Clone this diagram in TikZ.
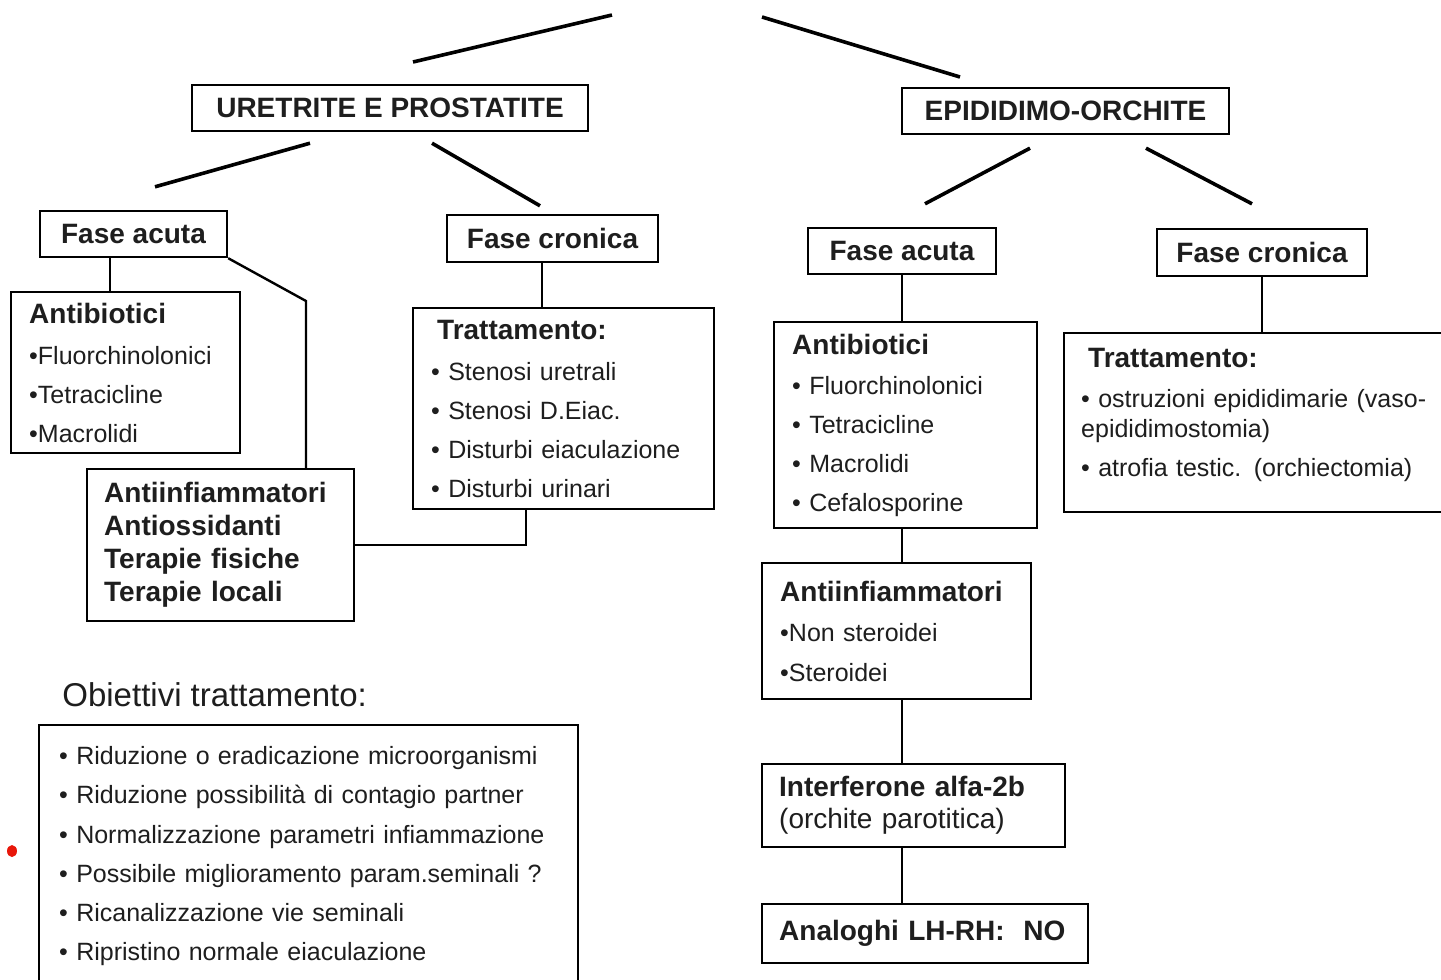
\documentclass[tikz,border=0pt]{standalone}
\usepackage{fontspec}
\setmainfont{Liberation Sans}
\usetikzlibrary{calc}
\definecolor{ink}{HTML}{1E1E1E}
\definecolor{reddot}{HTML}{E8170A}
\begin{document}
\begin{tikzpicture}[x=0.5pt,y=-0.5pt,
  box/.style={draw=black, line width=1.2pt, fill=white, rectangle, inner ysep=0pt, text=ink},
  hdr/.style={box, font=\fontsize{14}{16}\selectfont\bfseries, align=center},
  lst/.style={box, align=left, anchor=north west, font=\fontsize{12.5}{19.5}\selectfont},
  conn/.style={line width=1.2pt},
  topline/.style={line width=1.8pt}
]
\useasboundingbox[fill=white] (0,0) rectangle (1441,980);

% ---------- header boxes ----------
\node[hdr, minimum width=198pt, minimum height=23pt] (UP) at (390,108) {URETRITE E PROSTATITE};
\node[hdr, minimum width=163.5pt, minimum height=23pt] (EO) at (1065.5,111) {EPIDIDIMO-ORCHITE};
\node[hdr, minimum width=93.5pt, minimum height=23pt] (FAL) at (133.5,234) {Fase acuta};
\node[hdr, minimum width=105.5pt, minimum height=23.5pt] (FCL) at (552.5,238.5) {Fase cronica};
\node[hdr, minimum width=94pt, minimum height=23pt] (FAR) at (902,251) {Fase acuta};
\node[hdr, minimum width=105pt, minimum height=23.5pt] (FCR) at (1262,252.5) {Fase cronica};

% ---------- left branch ----------
\node[lst, minimum height=80.5pt, text width=96.5pt, inner xsep=9pt] (ABL) at (10,291)
{{\fontsize{14}{19.5}\selectfont\bfseries Antibiotici}\\[1pt]
•Fluorchinolonici\\
•Tetracicline\\
•Macrolidi};

\node[lst, minimum height=76pt, text width=116.5pt, inner xsep=8.5pt,
      font=\fontsize{14}{16.5}\selectfont\bfseries] (AIL) at (86,468)
{Antiinfiammatori\\
Antiossidanti\\
Terapie fisiche\\
Terapie locali};

\node[lst, minimum height=100.5pt, text width=132.5pt, inner xsep=9pt] (TRL) at (412,307)
{{\fontsize{14}{19.5}\selectfont\bfseries\hspace{3pt}Trattamento:}\\[1pt]
• Stenosi uretrali\\
• Stenosi D.Eiac.\\
• Disturbi eiaculazione\\
• Disturbi urinari};

% ---------- right branch ----------
\node[lst, minimum height=103pt, text width=113.5pt, inner xsep=9pt] (ABR) at (773,321)
{{\fontsize{14}{19.5}\selectfont\bfseries Antibiotici}\\[0.5pt]
• Fluorchinolonici\\
• Tetracicline\\
• Macrolidi\\
• Cefalosporine};

\node[lst, minimum height=89.5pt, text width=174pt, inner xsep=8.5pt,
      font=\fontsize{12.5}{15}\selectfont] (TRR) at (1063,332)
{{\fontsize{14}{15}\selectfont\bfseries\hspace{3.5pt}Trattamento:}\\[5pt]
• ostruzioni epididimarie (vaso-\\
epididimostomia)\\[4.5pt]
• atrofia testic. (orchiectomia)\\[-5pt]\mbox{}};

\node[lst, minimum height=68pt, text width=116.5pt, inner xsep=9pt,
      font=\fontsize{12.5}{20}\selectfont] (AIR) at (761,562)
{{\fontsize{14}{20}\selectfont\bfseries Antiinfiammatori}\\
•Non steroidei\\
•Steroidei};

\node[lst, minimum height=41.5pt, text width=134.5pt, inner xsep=8.5pt,
      font=\fontsize{14}{16}\selectfont] (INT) at (761,763)
{\textbf{Interferone alfa-2b}\\
(orchite parotitica)};

\node[lst, minimum height=29.5pt, text width=146pt, inner xsep=8.5pt,
      font=\fontsize{14}{16}\selectfont\bfseries] (ANA) at (761,903)
{Analoghi LH-RH:\ \ NO};

% ---------- objectives ----------
\node[anchor=west, inner sep=0pt, text=ink, font=\fontsize{16.5}{18}\selectfont] (OBT) at (62,695) {Obiettivi trattamento:};
\node[lst, minimum height=131pt, text width=249.5pt, inner xsep=10pt,
      font=\fontsize{12.5}{19.6}\selectfont] (OBJ) at (38,724)
{• Riduzione o eradicazione microorganismi\\
• Riduzione possibilità di contagio partner\\
• Normalizzazione parametri infiammazione\\
• Possibile miglioramento param.seminali ?\\
• Ricanalizzazione vie seminali\\
• Ripristino normale eiaculazione};

% ---------- top connectors (free ends) ----------
\coordinate (t1a) at (413,62);  \coordinate (t1b) at (612,15);
\coordinate (t2a) at (762,17);  \coordinate (t2b) at (960,77);
\draw[topline] (t1a) -- (t1b);
\draw[topline] (t2a) -- (t2b);

\draw[topline] ($(UP.south)+(-80,11)$) -- ($(FAL.north)+(21.5,-23)$);
\draw[topline] ($(UP.south)+(42,11)$) -- ($(FCL.north)+(-12.5,-8)$);
\draw[topline] ($(EO.south)+(-35.5,13)$) -- ($(FAR.north)+(23,-23)$);
\draw[topline] ($(EO.south)+(80.5,13)$) -- ($(FCR.north)+(-10,-24)$);

% ---------- tree connectors ----------
\path ($(FAL.south)+(-23.5,0)$) coordinate (p1);
\draw[conn] (p1) -- (p1 |- ABL.north);
\coordinate (k1) at (306,301);
\draw[conn] (FAL.south east) -- (k1) -- (k1 |- AIL.north);
\path ($(FCL.south)+(-10.5,0)$) coordinate (p3);
\draw[conn] (p3) -- (p3 |- TRL.north);
\path ($(TRL.south)+(-37.5,0)$) coordinate (p2);
\draw[conn] (p2) |- (AIL.east);

\draw[conn] (FAR.south) -- (FAR.south |- ABR.north);
\draw[conn] (FCR.south) -- (FCR.south |- TRR.north);
\draw[conn] (ABR.south -| FAR.south) -- (AIR.north -| FAR.south);
\draw[conn] (AIR.south -| FAR.south) -- (INT.north -| FAR.south);
\draw[conn] (INT.south -| FAR.south) -- (ANA.north -| FAR.south);

% ---------- red mark ----------
\fill[reddot] (12,851) ellipse [x radius=2.5pt, y radius=3pt];
\end{tikzpicture}
\end{document}
